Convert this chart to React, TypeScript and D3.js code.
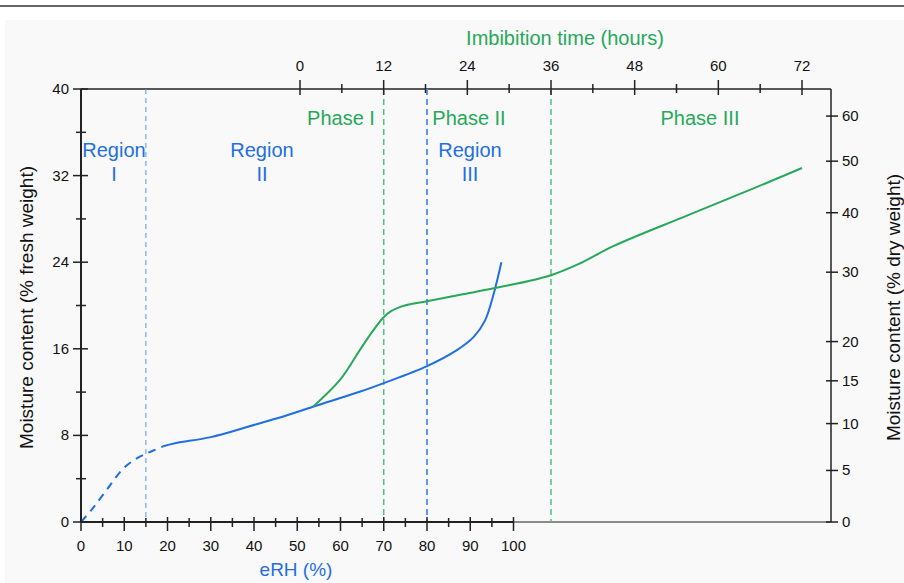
import React from "react";
import * as d3 from "d3";

// ---- Data ----
const erhTicks = [0, 10, 20, 30, 40, 50, 60, 70, 80, 90, 100];
const erhMinor = [5, 15, 25, 35, 45, 55, 65, 75, 85, 95];
const timeTicks = [0, 12, 24, 36, 48, 60, 72];
const timeMinor = [6, 18, 30, 42, 54, 66];
const fwTicks = [0, 8, 16, 24, 32, 40];
const fwMinor = [4, 12, 20, 28, 36];
const dwTicks = [0, 5, 10, 15, 20, 30, 40, 50, 60];

// sorption isotherm, dashed (extrapolated) part
const isoDashERH = [0, 2.8, 6, 9.8, 13, 15, 17, 19];
const isoDashFW = [0, 1.3, 3.0, 4.95, 5.9, 6.3, 6.65, 7.0];
// sorption isotherm, solid part
const isoERH = [19, 22, 30, 41.4, 46, 53.8, 64.6, 70, 80, 87, 90.8, 93.4, 95.3, 97.2];
const isoFW = [7.0, 7.3, 7.84, 9.13, 9.65, 10.67, 12.05, 12.83, 14.4, 15.9, 17.1, 18.6, 20.9, 24.0];
// imbibition curve
const imbT = [1.9, 5.7, 8.6, 10.5, 11.9, 13.0, 14.5, 18.2, 23, 28.7, 36, 40.2, 45, 55.5, 64.6, 72];
const imbFW = [10.67, 13.1, 15.9, 17.7, 18.85, 19.45, 19.9, 20.4, 21.0, 21.7, 22.8, 23.9, 25.5, 28.3, 30.7, 32.7];

const regionBounds = [15, 80]; // eRH
const phaseERH = 70; // Phase I/II boundary on eRH scale (= 12 h)
const phaseTime = 36; // Phase II/III boundary (hours)

const BLUE = "#1f6fe3";
const GREEN = "#27a85a";
const FONT = "'Liberation Sans', Arial, sans-serif";

export default function App() {
  const W = 904, H = 583;
  const x = d3.scaleLinear().domain([0, 100]).range([81, 513.5]);
  const t = d3.scaleLinear().domain([0, 72]).range([300, 802]);
  const y = d3.scaleLinear().domain([0, 40]).range([522, 89]);
  const dwToY = (dw: number) => y((dw * 100) / (100 + dw));
  const left = 81, right = 831, top = 89, bottom = 522;

  const lineXY = d3
    .line<[number, number]>()
    .x((d) => d[0])
    .y((d) => d[1])
    .curve(d3.curveCatmullRom.alpha(0.5));

  const dashPts = isoDashERH.map((e, i) => [x(e), y(isoDashFW[i])] as [number, number]);
  const isoPts = isoERH.map((e, i) => [x(e), y(isoFW[i])] as [number, number]);
  const imbPts = imbT.map((e, i) => [t(e), y(imbFW[i])] as [number, number]);

  return (
    <svg
      width={W}
      height={H}
      style={{ position: "absolute", left: 0, top: 0, fontFamily: FONT }}
    >
      <rect x={0} y={0} width={W} height={H} fill="#ffffff" />
      <rect x={5} y={20} width={W - 5} height={H - 20} fill="#f9f9f9" />
      <line x1={0} x2={W} y1={6} y2={6} stroke="#333" strokeWidth={1.5} />

      {/* frame: top and right */}
      <line x1={left} x2={right} y1={top} y2={top} stroke="#222" strokeWidth={1.5} />
      <line x1={right} x2={right} y1={top} y2={bottom} stroke="#222" strokeWidth={1.5} />
      <line x1={x(100)} x2={right} y1={bottom} y2={bottom} stroke="#666" strokeWidth={1.5} />

      {/* dashed boundaries */}
      <line x1={x(regionBounds[0])} x2={x(regionBounds[0])} y1={top} y2={bottom}
        stroke="#6fa7ef" strokeWidth={1.2} strokeDasharray="5,4" />
      <line x1={x(regionBounds[1])} x2={x(regionBounds[1])} y1={top} y2={bottom}
        stroke="#5b98ee" strokeWidth={2} strokeDasharray="6,4" />
      <line x1={x(phaseERH)} x2={x(phaseERH)} y1={top} y2={bottom}
        stroke="#4fc27a" strokeWidth={1.5} strokeDasharray="6,4" />
      <line x1={t(phaseTime)} x2={t(phaseTime)} y1={top} y2={bottom}
        stroke="#4fc27a" strokeWidth={1.5} strokeDasharray="6,4" />

      {/* curves */}
      <path d={lineXY(dashPts) || ""} fill="none" stroke={BLUE} strokeWidth={2} strokeDasharray="8,6" />
      <path d={lineXY(isoPts) || ""} fill="none" stroke={BLUE} strokeWidth={2} />
      <path d={lineXY(imbPts) || ""} fill="none" stroke={GREEN} strokeWidth={2} />

      {/* left axis */}
      <line x1={left} x2={left} y1={top} y2={bottom} stroke="#222" strokeWidth={2} />
      {fwTicks.map((v) => (
        <g key={"fw" + v}>
          <line x1={left - 8} x2={left + 7} y1={y(v)} y2={y(v)} stroke="#222" strokeWidth={1.5} />
          <text x={left - 12} y={y(v) + 5} textAnchor="end" fontSize={15} fill="#111">{v}</text>
        </g>
      ))}
      {fwMinor.map((v) => (
        <line key={"fwm" + v} x1={left - 5} x2={left + 5} y1={y(v)} y2={y(v)} stroke="#222" strokeWidth={1.5} />
      ))}
      <text transform={`translate(33,${(top + bottom) / 2 + 2}) rotate(-90)`} textAnchor="middle"
        fontSize={19} fill="#111">Moisture content (% fresh weight)</text>

      {/* right axis */}
      {dwTicks.map((v) => (
        <g key={"dw" + v}>
          <line x1={right - 5} x2={right + 7} y1={dwToY(v)} y2={dwToY(v)} stroke="#222" strokeWidth={1.5} />
          <text x={right + 11} y={dwToY(v) + 5} textAnchor="start" fontSize={15} fill="#111">{v}</text>
        </g>
      ))}
      <text transform={`translate(900,${(top + bottom) / 2 + 2}) rotate(-90)`} textAnchor="middle"
        fontSize={19} fill="#111">Moisture content (% dry weight)</text>

      {/* bottom axis */}
      <line x1={left} x2={x(100)} y1={bottom} y2={bottom} stroke="#222" strokeWidth={2} />
      {erhTicks.map((v) => (
        <g key={"e" + v}>
          <line x1={x(v)} x2={x(v)} y1={bottom - 5} y2={bottom + 9} stroke="#222" strokeWidth={1.5} />
          <text x={x(v)} y={551} textAnchor="middle" fontSize={15} fill="#111">{v}</text>
        </g>
      ))}
      {erhMinor.map((v) => (
        <line key={"em" + v} x1={x(v)} x2={x(v)} y1={bottom - 4} y2={bottom + 5} stroke="#222" strokeWidth={1.5} />
      ))}
      <text x={296} y={576} textAnchor="middle" fontSize={19} fill={BLUE}>eRH (%)</text>

      {/* top axis */}
      {timeTicks.map((v) => (
        <g key={"t" + v}>
          <line x1={t(v)} x2={t(v)} y1={top - 9} y2={top + 6} stroke="#222" strokeWidth={1.5} />
          <text x={t(v)} y={71} textAnchor="middle" fontSize={15} fill="#111">{v}</text>
        </g>
      ))}
      {timeMinor.map((v) => (
        <line key={"tm" + v} x1={t(v)} x2={t(v)} y1={top - 5} y2={top + 4} stroke="#222" strokeWidth={1.5} />
      ))}
      <text x={565} y={45} textAnchor="middle" fontSize={20} fill={GREEN}>Imbibition time (hours)</text>

      {/* region labels */}
      <text x={114} y={157} textAnchor="middle" fontSize={20} fill={BLUE}>Region</text>
      <text x={114} y={181} textAnchor="middle" fontSize={20} fill={BLUE}>I</text>
      <text x={262} y={157} textAnchor="middle" fontSize={20} fill={BLUE}>Region</text>
      <text x={262} y={181} textAnchor="middle" fontSize={20} fill={BLUE}>II</text>
      <text x={470} y={157} textAnchor="middle" fontSize={20} fill={BLUE}>Region</text>
      <text x={470} y={181} textAnchor="middle" fontSize={20} fill={BLUE}>III</text>

      {/* phase labels */}
      <text x={341} y={125} textAnchor="middle" fontSize={20} fill={GREEN}>Phase I</text>
      <text x={469} y={125} textAnchor="middle" fontSize={20} fill={GREEN}>Phase II</text>
      <text x={700} y={125} textAnchor="middle" fontSize={20} fill={GREEN}>Phase III</text>
    </svg>
  );
}
